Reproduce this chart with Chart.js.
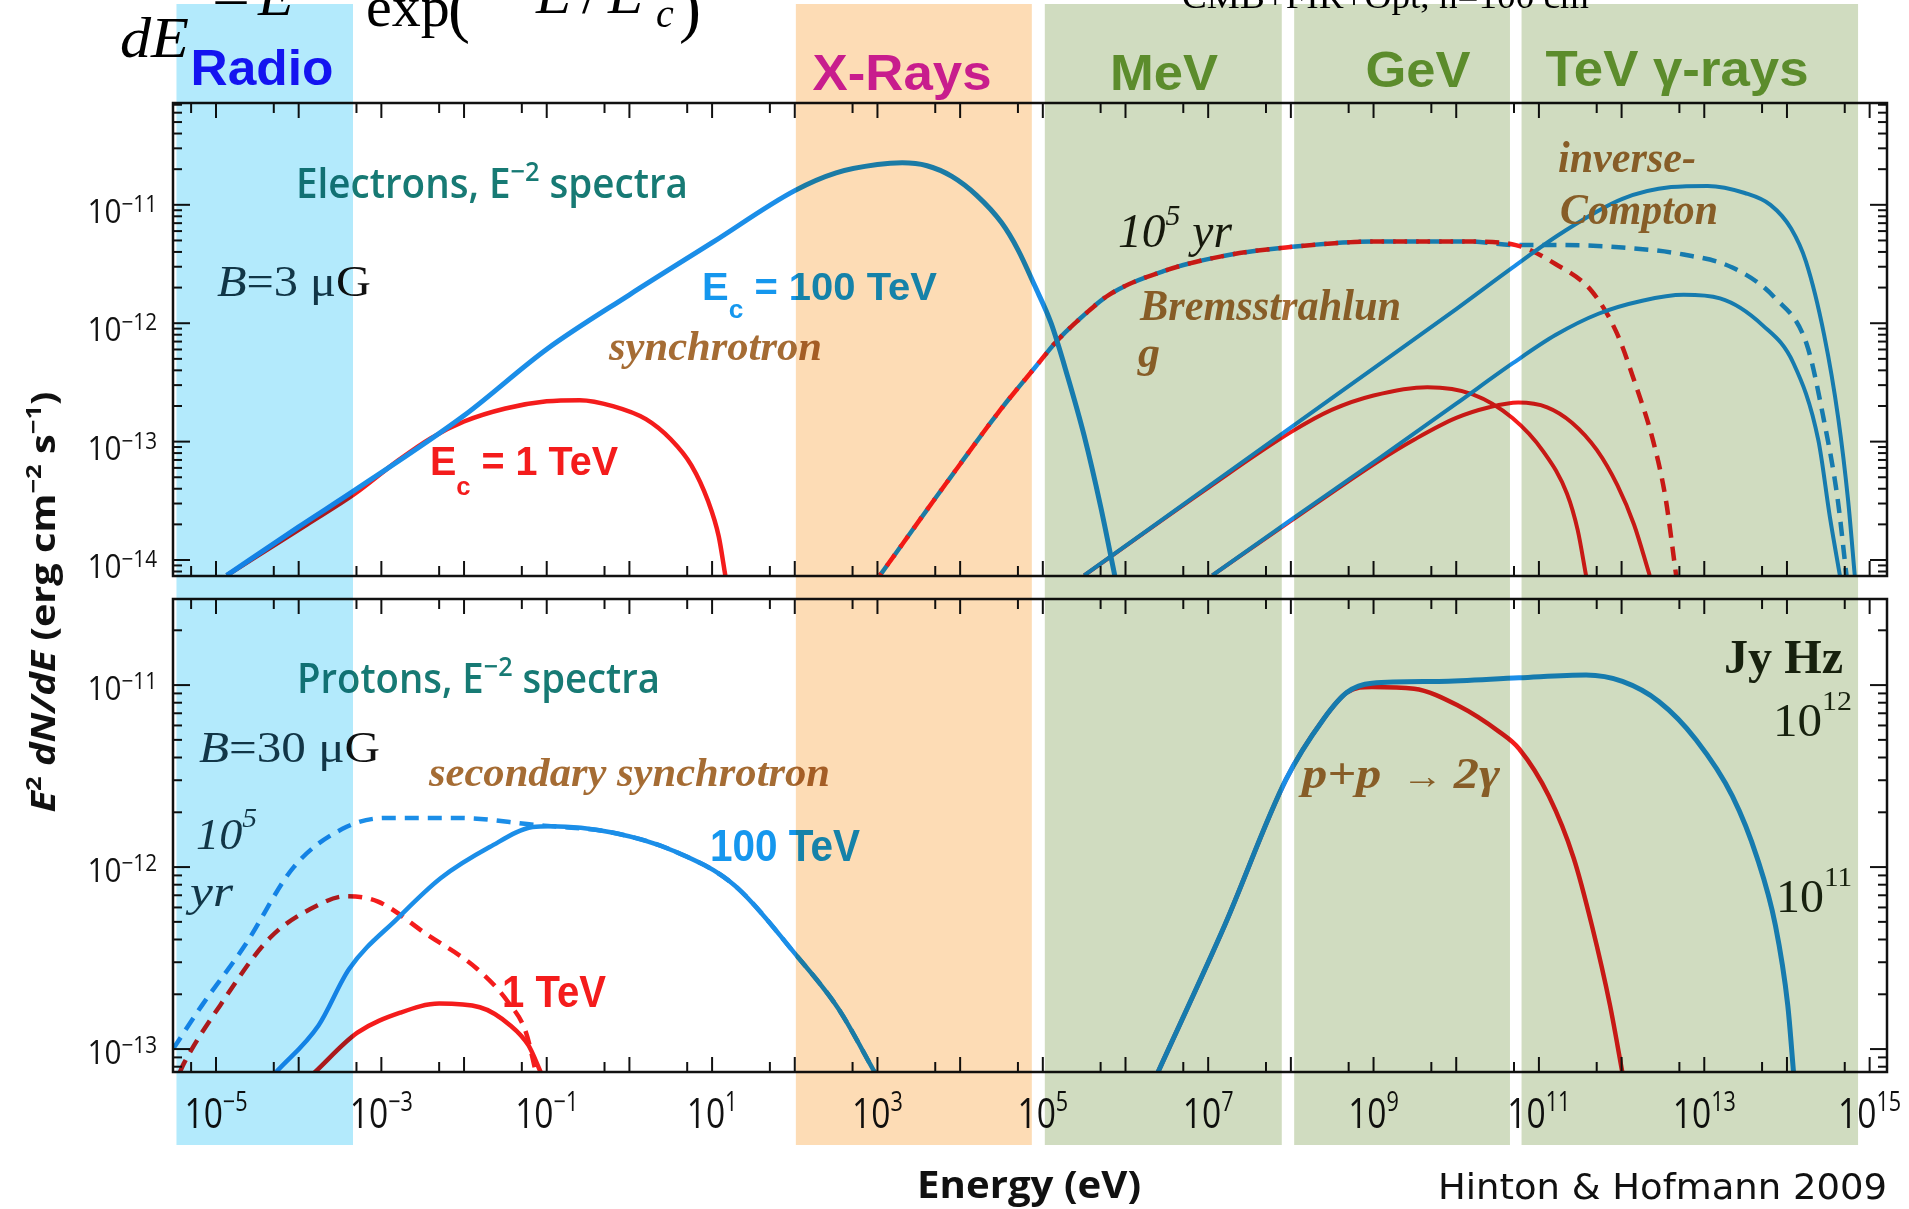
<!DOCTYPE html>
<html>
<head>
<meta charset="utf-8">
<title>Electron and proton radiation spectra</title>
<script src="https://cdn.jsdelivr.net/npm/chart.js@4.4.1/dist/chart.umd.min.js"></script>
<style>
  html, body { margin: 0; padding: 0; background: #fff; }
  body { width: 1909px; height: 1209px; position: relative; overflow: hidden; }
  canvas { position: absolute; left: 0; display: block; }
  #upper { top: 0; }
  #lower { top: 588px; }
</style>
</head>
<body>
<canvas id="upper" width="1909" height="588"></canvas>
<canvas id="lower" width="1909" height="621"></canvas>
<script>
// All curves: log10 of photon energy E (eV) and log10 of E^2 dN/dE (erg cm^-2 s^-1).

// ---- Electrons, E^-2 spectra ----
// synchrotron, E_c = 100 TeV
const syncHiLogE = [-4.87, -4.0, -3.32, -2.0, -1.0, 0.0, 1.0, 2.0, 2.5, 3.0, 3.3, 3.6, 3.9, 4.2, 4.5, 4.7, 4.9, 5.1, 5.3, 5.5, 5.7, 5.87];
const syncHiLogF = [-14.13, -13.72, -13.41, -12.78, -12.22, -11.76, -11.32, -10.88, -10.73, -10.66, -10.645, -10.67, -10.76, -10.92, -11.15, -11.38, -11.68, -12.0, -12.45, -12.95, -13.55, -14.13];
// synchrotron, E_c = 1 TeV
const syncLoLogE = [-4.87, -3.9, -3.32, -2.8, -2.4, -2.0, -1.5, -1.0, -0.6, -0.2, 0.2, 0.5, 0.75, 0.95, 1.08, 1.16];
const syncLoLogF = [-14.13, -13.70, -13.44, -13.16, -12.97, -12.83, -12.72, -12.66, -12.65, -12.70, -12.81, -12.98, -13.2, -13.5, -13.8, -14.13];
// Bremsstrahlung after 1e5 yr: common part, then the 1 TeV and 100 TeV tails
const bremLogE = [3.03, 3.875, 4.5, 4.91, 5.17, 5.5, 5.8, 6.46, 7.2, 7.94, 9.05, 10.16, 10.72];
const bremLogF = [-14.13, -13.31, -12.72, -12.37, -12.15, -11.93, -11.76, -11.56, -11.43, -11.36, -11.31, -11.31, -11.34];
const bremLoTailLogE = [11.2, 11.64, 11.94, 12.16, 12.38, 12.53, 12.66];
const bremLoTailLogF = [-11.5, -11.73, -12.08, -12.5, -12.99, -13.47, -14.13];
const bremHiTailLogE = [11.27, 12.01, 12.75, 13.34, 13.86, 14.24, 14.45, 14.61, 14.72];
const bremHiTailLogF = [-11.34, -11.36, -11.42, -11.53, -11.79, -12.18, -12.83, -13.47, -14.13];
// inverse-Compton, 100 TeV electrons (two target fields)
const icHiALogE = [5.5, 7.0, 8.5, 10.0, 10.68, 11.27, 12.01, 12.6, 13.04, 13.49, 13.8, 14.05, 14.23, 14.45, 14.62, 14.74, 14.82];
const icHiALogF = [-14.13, -13.38, -12.63, -11.88, -11.53, -11.24, -10.95, -10.85, -10.84, -10.90, -11.0, -11.2, -11.48, -12.1, -12.8, -13.5, -14.13];
const icHiBLogE = [7.05, 8.0, 9.05, 10.0, 10.68, 11.2, 11.72, 12.25, 12.75, 13.19, 13.71, 14.08, 14.38, 14.52, 14.64];
const icHiBLogF = [-14.13, -13.66, -13.15, -12.68, -12.34, -12.10, -11.92, -11.81, -11.76, -11.79, -12.02, -12.34, -12.99, -13.64, -14.13];
// inverse-Compton, 1 TeV electrons
const icLoALogE = [5.5, 7.0, 8.0, 8.5, 9.0, 9.65, 10.2, 10.68, 11.05, 11.34, 11.47, 11.57];
const icLoALogF = [-14.13, -13.39, -12.92, -12.73, -12.61, -12.54, -12.60, -12.80, -13.08, -13.44, -13.75, -14.13];
const icLoBLogE = [7.05, 8.0, 9.05, 9.5, 10.0, 10.4, 10.75, 11.1, 11.4, 11.7, 11.95, 12.15, 12.34];
const icLoBLogF = [-14.13, -13.67, -13.17, -12.98, -12.80, -12.71, -12.67, -12.71, -12.84, -13.07, -13.37, -13.70, -14.13];

// ---- Protons, E^-2 spectra ----
// secondary synchrotron after 1e5 yr, 100 TeV (rise, then shared fall with the prompt curve)
const secDashHiLogE = [-5.52, -5.17, -4.65, -4.06, -3.47, -2.95, -2.06, -1.10, -0.95];
const secDashHiLogF = [-13.0, -12.76, -12.43, -12.0, -11.79, -11.73, -11.73, -11.77, -11.775];
const secHiLogE = [-4.28, -3.76, -3.39, -2.80, -2.28, -1.69, -1.17, -0.95];
const secHiLogF = [-13.13, -12.87, -12.56, -12.28, -12.06, -11.89, -11.78, -11.775];
const secHiTailLogE = [-0.21, 0.53, 1.27, 2.01, 2.53, 2.97];
const secHiTailLogF = [-11.81, -11.91, -12.10, -12.48, -12.78, -13.13];
// secondary synchrotron, 1 TeV
const secDashLoLogE = [-5.44, -5.39, -4.95, -4.35, -3.77, -3.43, -3.04, -2.45, -1.84, -1.47, -1.25, -1.13];
const secDashLoLogF = [-13.13, -13.08, -12.76, -12.39, -12.21, -12.16, -12.19, -12.37, -12.56, -12.74, -12.91, -13.13];
const secLoLogE = [-3.81, -3.29, -2.77, -2.3, -1.81, -1.44, -1.22, -1.07];
const secLoLogF = [-13.13, -12.91, -12.80, -12.75, -12.77, -12.87, -12.98, -13.13];
// pion decay p+p -> 2 gamma: common rise, then 100 TeV and 1 TeV branches
const pionLogE = [6.39, 7.2, 7.94, 8.39, 8.68];
const pionLogF = [-13.13, -12.32, -11.52, -11.19, -11.04];
const pionHiLogE = [8.98, 9.79, 10.76, 11.57, 12.01, 12.45, 12.9, 13.34, 13.64, 13.86, 14.01, 14.08];
const pionHiLogF = [-10.99, -10.98, -10.96, -10.945, -10.98, -11.09, -11.30, -11.61, -11.95, -12.32, -12.76, -13.13];
const pionLoLogE = [8.98, 9.49, 10.01, 10.53, 10.76, 11.12, 11.42, 11.64, 11.86, 12.01];
const pionLoLogF = [-11.01, -11.02, -11.11, -11.26, -11.35, -11.61, -11.95, -12.32, -12.76, -13.13];

// ---- Axes ----
const xTickExps = [-5, -3, -1, 1, 3, 5, 7, 9, 11, 13, 15];
const yTickExpsUpper = [-11, -12, -13, -14];
const yTickExpsLower = [-11, -12, -13];

// ---- Wavebands (log10 E in eV) ----
const bandNames = ['Radio', 'X-Rays', 'MeV', 'GeV', 'TeV γ-rays'];
const bandLogLo = [-5.478, 2.013, 5.024, 8.04, 10.79];
const bandLogHi = [-3.343, 4.867, 7.89, 10.65, 14.86];

// ---------------------------------------------------------------
const BLUE = '#1b8ee8', RED = '#f41c1c', TEAL = '#177a74', BROWN = '#a56c34';
const INK = '#111', SLATE = '#183a48';
const SANS = '"Liberation Sans", Arial, sans-serif';
const MYR = '"Open Sans", sans-serif';
const SERIF = '"Liberation Serif", "Times New Roman", serif';
const DJ = '"DejaVu Sans", sans-serif';
const bandFill = ['#b3eafc', '#fddcb5', '#d0dcc0', '#d0dcc0', '#d0dcc0'];
const bandInk = ['#1414f0', '#c81d8d', '#5c8c2c', '#5c8c2c', '#5c8c2c'];
const BAND_TOP = 4, BAND_BOTTOM = 1145;

const pts = (lx, ly) => lx.map((v, i) => ({x: 10 ** v, y: 10 ** ly[i]}));
const solid = (data, color, w) => ({data, borderColor: color, borderWidth: w, fill: false,
  pointRadius: 0, cubicInterpolationMode: 'monotone', borderJoinStyle: 'round'});
const dashed = (data, color, w, offset) => Object.assign(solid(data, color, w),
  {borderDash: [14, 9], borderDashOffset: offset});

// Text made of pieces with their own font / offset / colour; optionally squeezed to a width.
function richText(ctx, parts, x, y, o = {}) {
  const widths = parts.map(p => { ctx.font = p.f; return ctx.measureText(p.t).width; });
  const natural = widths.reduce((s, w) => s + w, 0);
  const sx = o.width ? o.width / natural : (o.sx || 1);
  const span = natural * sx;
  const x0 = o.align === 'center' ? x - span / 2 : o.align === 'right' ? x - span : x;
  ctx.save();
  ctx.translate(x0, y);
  ctx.scale(sx, 1);
  ctx.textAlign = 'left';
  ctx.textBaseline = 'alphabetic';
  let cx = 0;
  parts.forEach((p, i) => {
    ctx.font = p.f;
    ctx.fillStyle = p.c || o.color || '#000';
    ctx.fillText(p.t, cx, p.dy || 0);
    cx += widths[i];
  });
  ctx.restore();
}

const supStr = n => (n < 0 ? '−' + (-n) : String(n));

function drawFrame(ctx, a, x, y) {
  ctx.save();
  ctx.strokeStyle = INK;
  ctx.lineWidth = 2;
  const seg = (x0, y0, x1, y1) => { ctx.beginPath(); ctx.moveTo(x0, y0); ctx.lineTo(x1, y1); ctx.stroke(); };
  for (let n = -6; n <= 15; n++) {
    for (const [m, len] of [[1, 15], [5, 10]]) {
      const v = m * 10 ** n;
      if (v <= x.min || v >= x.max) continue;
      const px = x.getPixelForValue(v);
      seg(px, a.bottom, px, a.bottom - len);
      seg(px, a.top, px, a.top + len);
    }
  }
  for (let n = -16; n <= -9; n++) {
    for (let m = 1; m <= 9; m++) {
      const v = m * 10 ** n;
      if (v <= y.min || v >= y.max) continue;
      const py = y.getPixelForValue(v);
      const len = m === 1 ? 17 : 9;
      seg(a.left, py, a.left + len, py);
      seg(a.right, py, a.right - len, py);
    }
  }
  ctx.lineWidth = 2.5;
  ctx.strokeRect(a.left, a.top, a.right - a.left, a.bottom - a.top);
  ctx.restore();
}

function yLabels(ctx, y, exps, dyBase) {
  exps.forEach(n => {
    const py = y.getPixelForValue(10 ** n);
    richText(ctx, [{t: '10', f: `33px ${MYR}`}, {t: supStr(n), f: `23px ${MYR}`, dy: -11}],
      157, py + dyBase, {align: 'right', sx: 0.9, color: INK});
  });
}

function xLabels(ctx, x, a) {
  xTickExps.forEach(n => {
    const px = x.getPixelForValue(10 ** n);
    richText(ctx, [{t: '10', f: `42px ${MYR}`}, {t: supStr(n), f: `27px ${MYR}`, dy: -17}],
      px, a.bottom + 56, {align: 'center', sx: 0.8, color: INK});
  });
}

// ----- annotations, page coordinates -----
function upperNotes(ctx) {
  richText(ctx, [{t: 'Electrons, E', f: `600 41px ${MYR}`}, {t: '−2', f: `600 27px ${MYR}`, dy: -17},
    {t: ' spectra', f: `600 41px ${MYR}`}], 296, 198, {width: 392, color: TEAL});
  richText(ctx, [{t: 'B', f: `italic 44px ${SERIF}`, c: SLATE}, {t: '=3 μ', f: `44px ${SERIF}`, c: SLATE},
    {t: 'G', f: `44px ${SERIF}`, c: '#111'}], 217, 296, {width: 154});
  richText(ctx, [{t: 'E', f: `bold 38px ${SANS}`}, {t: 'c', f: `bold 25px ${SANS}`, dy: 18},
    {t: ' = 100 TeV', f: `bold 38px ${SANS}`}], 702, 300, {width: 235, color: '#1597ee'});
  richText(ctx, [{t: 'synchrotron', f: `italic bold 42px ${SERIF}`}], 609, 360, {width: 213, color: BROWN});
  richText(ctx, [{t: 'E', f: `bold 40px ${SANS}`}, {t: 'c', f: `bold 26px ${SANS}`, dy: 20},
    {t: ' = 1 TeV', f: `bold 40px ${SANS}`}], 430, 475, {width: 188, color: RED});
  richText(ctx, [{t: '10', f: `italic 48px ${SERIF}`}, {t: '5', f: `italic 30px ${SERIF}`, dy: -22},
    {t: ' yr', f: `italic 48px ${SERIF}`}], 1118, 247, {width: 114, color: '#1a1c10'});
  richText(ctx, [{t: 'Bremsstrahlun', f: `italic bold 44px ${SERIF}`}], 1140, 320, {width: 261, color: BROWN});
  richText(ctx, [{t: 'g', f: `italic bold 44px ${SERIF}`}], 1138, 367, {color: BROWN});
  richText(ctx, [{t: 'inverse-', f: `italic bold 44px ${SERIF}`}], 1558, 172, {width: 138, color: BROWN});
  richText(ctx, [{t: 'Compton', f: `italic bold 44px ${SERIF}`}], 1560, 224, {width: 158, color: BROWN});
}

function lowerNotes(ctx) {
  richText(ctx, [{t: 'Protons, E', f: `600 41px ${MYR}`}, {t: '−2', f: `600 27px ${MYR}`, dy: -17},
    {t: ' spectra', f: `600 41px ${MYR}`}], 297, 693, {width: 363, color: TEAL});
  richText(ctx, [{t: 'B', f: `italic 44px ${SERIF}`, c: SLATE}, {t: '=30 μ', f: `44px ${SERIF}`, c: SLATE},
    {t: 'G', f: `44px ${SERIF}`, c: '#111'}], 199, 762, {width: 181});
  richText(ctx, [{t: '10', f: `italic 44px ${SERIF}`}, {t: '5', f: `italic 28px ${SERIF}`, dy: -22}],
    196, 849, {width: 61, color: SLATE});
  richText(ctx, [{t: 'yr', f: `italic 44px ${SERIF}`}], 190, 906, {width: 43, color: SLATE});
  richText(ctx, [{t: 'secondary synchrotron', f: `italic bold 40px ${SERIF}`}], 429, 786, {width: 401, color: BROWN});
  richText(ctx, [{t: '100 TeV', f: `bold 44px ${SANS}`}], 710, 861, {width: 150, color: '#1597ee'});
  richText(ctx, [{t: '1 TeV', f: `bold 44px ${SANS}`}], 502, 1007, {width: 104, color: RED});
  richText(ctx, [{t: 'p+p', f: `italic bold 44px ${SERIF}`}, {t: '  → ', f: `bold 36px ${SERIF}`},
    {t: '2γ', f: `italic bold 44px ${SERIF}`}], 1302, 788, {width: 198, color: BROWN});
  richText(ctx, [{t: 'Jy Hz', f: `bold 48px ${SERIF}`}], 1724, 673, {width: 119, color: '#1c2612'});
  richText(ctx, [{t: '10', f: `46px ${SERIF}`}, {t: '12', f: `28px ${SERIF}`, dy: -26}], 1773, 736, {width: 79, color: '#1c2612'});
  richText(ctx, [{t: '10', f: `46px ${SERIF}`}, {t: '11', f: `28px ${SERIF}`, dy: -26}], 1776, 912, {width: 76, color: '#1c2612'});
}

function pageText(ctx) {
  // vertical axis title
  ctx.save();
  ctx.translate(55, 602);
  ctx.rotate(-Math.PI / 2);
  richText(ctx, [
    {t: 'E', f: `italic bold 34px ${MYR}`}, {t: '2', f: `bold 22px ${MYR}`, dy: -14},
    {t: ' dN/dE', f: `italic bold 34px ${MYR}`}, {t: ' (erg cm', f: `bold 34px ${MYR}`},
    {t: '−2', f: `bold 22px ${MYR}`, dy: -14}, {t: ' s', f: `bold 34px ${MYR}`},
    {t: '−1', f: `bold 22px ${MYR}`, dy: -14}, {t: ')', f: `bold 34px ${MYR}`}],
    0, 0, {align: 'center', width: 421, color: INK});
  ctx.restore();
  richText(ctx, [{t: 'Energy (eV)', f: `bold 38px ${MYR}`}], 1029, 1198, {align: 'center', width: 224, color: INK});
  richText(ctx, [{t: 'Hinton & Hofmann 2009', f: `36px ${DJ}`}], 1887, 1199, {align: 'right', width: 449, color: INK});

  // spectrum formula along the top edge
  const fs = `58px ${SERIF}`, fi = `italic 58px ${SERIF}`;
  richText(ctx, [{t: 'dE', f: fi}], 120, 57, {width: 69});
  richText(ctx, [{t: '=', f: fs}], 212, 16, {width: 38});
  richText(ctx, [{t: 'E', f: fi}], 258, 15);
  richText(ctx, [{t: 'exp', f: fs}], 366, 26);
  richText(ctx, [{t: '(', f: `66px ${SERIF}`}], 448, 30);
  richText(ctx, [{t: '−', f: fs}], 482, 13);
  richText(ctx, [{t: 'E', f: fi}], 536, 13);
  richText(ctx, [{t: '/', f: fs}], 582, 13);
  richText(ctx, [{t: 'E', f: fi}], 608, 13);
  richText(ctx, [{t: 'c', f: `italic 40px ${SERIF}`}], 656, 27);
  richText(ctx, [{t: ')', f: `66px ${SERIF}`}], 679, 30);
  richText(ctx, [{t: 'CMB+FIR+Opt, n=100 cm', f: `34px ${SERIF}`}], 1182, 8, {width: 407});
}

function drawBands(ctx, x) {
  ctx.save();
  ctx.globalCompositeOperation = 'multiply';
  bandLogLo.forEach((lo, i) => {
    const x0 = x.getPixelForValue(10 ** lo), x1 = x.getPixelForValue(10 ** bandLogHi[i]);
    ctx.fillStyle = bandFill[i];
    ctx.fillRect(x0, BAND_TOP, x1 - x0, BAND_BOTTOM - BAND_TOP);
  });
  ctx.restore();
}

function bandLabels(ctx) {
  const place = [[262, 85, 143], [902, 90, 179], [1164, 90, 108], [1418, 87, 105], [1677, 86, 263]];
  bandNames.forEach((name, i) => {
    const [cx, by, w] = place[i];
    richText(ctx, [{t: name, f: `bold 50px ${SANS}`}], cx, by, {align: 'center', width: w, color: bandInk[i]});
  });
}

function decorate(chart, offY, which) {
  const ctx = chart.ctx, a = chart.chartArea, x = chart.scales.x, y = chart.scales.y;
  drawFrame(ctx, a, x, y);
  if (which === 'upper') {
    yLabels(ctx, y, yTickExpsUpper, 18);
  } else {
    yLabels(ctx, y, yTickExpsLower, 15);
    xLabels(ctx, x, a);
  }
  ctx.save();
  ctx.translate(0, -offY);
  if (which === 'upper') upperNotes(ctx); else lowerNotes(ctx);
  pageText(ctx);
  drawBands(ctx, x);
  bandLabels(ctx);
  ctx.restore();
}

function makeChart(id, offY, padding, yLogMin, yLogMax, datasets) {
  return new Chart(document.getElementById(id), {
    type: 'line',
    data: {datasets},
    options: {
      responsive: false,
      animation: false,
      devicePixelRatio: 1,
      layout: {padding},
      plugins: {legend: {display: false}, tooltip: {enabled: false}},
      scales: {
        x: {type: 'logarithmic', min: 10 ** -5.52, max: 10 ** 15.21, display: false},
        y: {type: 'logarithmic', min: 10 ** yLogMin, max: 10 ** yLogMax, display: false}
      }
    },
    plugins: [{id: 'decor_' + id, afterDraw: chart => decorate(chart, offY, id)}]
  });
}

makeChart('upper', 0, {left: 173, right: 22, top: 103, bottom: 12}, -14.135, -10.14, [
  solid(pts(syncHiLogE, syncHiLogF), BLUE, 5),
  solid(pts(icHiALogE, icHiALogF), BLUE, 4),
  solid(pts(icHiBLogE, icHiBLogF), BLUE, 4),
  solid(pts(syncLoLogE, syncLoLogF), RED, 4.5),
  solid(pts(icLoALogE, icLoALogF), RED, 4),
  solid(pts(icLoBLogE, icLoBLogF), RED, 4),
  dashed(pts(bremLogE.concat(bremLoTailLogE), bremLogF.concat(bremLoTailLogF)), RED, 4.5, 11.5),
  dashed(pts(bremLogE.concat(bremHiTailLogE), bremLogF.concat(bremHiTailLogF)), BLUE, 4.5, 0)
]);

makeChart('lower', 588, {left: 173, right: 22, top: 11, bottom: 137}, -13.126, -10.527, [
  solid(pts(pionLogE.concat(pionHiLogE), pionLogF.concat(pionHiLogF)), BLUE, 5),
  solid(pts(pionLogE.concat(pionLoLogE), pionLogF.concat(pionLoLogF)), RED, 4.5),
  solid(pts(secHiLogE.concat(secHiTailLogE), secHiLogF.concat(secHiTailLogF)), BLUE, 4.5),
  solid(pts(secLoLogE, secLoLogF), RED, 4.5),
  dashed(pts(secDashHiLogE.concat(secHiTailLogE), secDashHiLogF.concat(secHiTailLogF)), BLUE, 4.5, 0),
  dashed(pts(secDashLoLogE, secDashLoLogF), RED, 4.5, 0)
]);
</script>
</body>
</html>
